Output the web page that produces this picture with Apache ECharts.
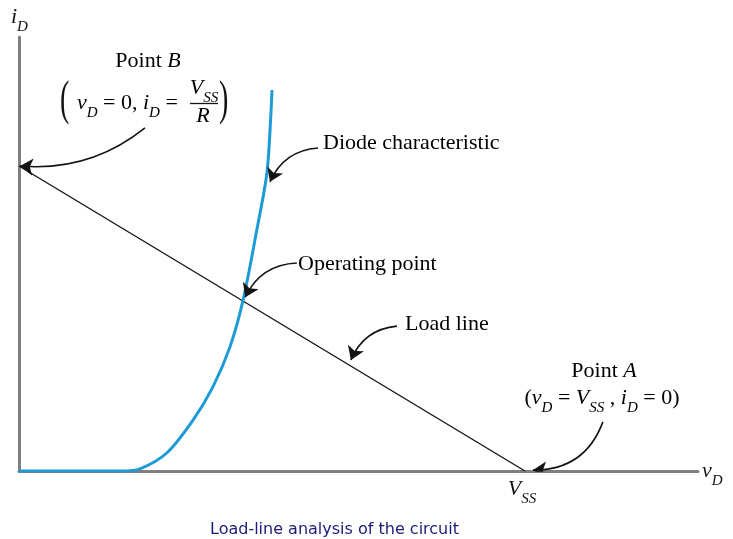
<!DOCTYPE html>
<html>
<head>
<meta charset="utf-8">
<script src="https://cdn.jsdelivr.net/npm/echarts@6/dist/echarts.min.js"></script>
<style>
html, body { margin: 0; padding: 0; background: #fff; }
#main { width: 733px; height: 539px; }
</style>
</head>
<body>
<div id="main"></div>
<script>
// 二极管特性曲线 (vD, iD), 单位: VSS = 10, VSS/R = 10
var diodeV = [0, 2.04, 2.39, 2.92, 3.44, 3.83, 4.17, 4.43, 4.70, 4.90, 4.98, 5.00]
var diodeI = [0, 0, 0.07, 0.59, 1.67, 2.75, 4.07, 5.61, 7.90, 9.77, 11.74, 12.49]
// 负载线: 点B (0, VSS/R) -> 点A (VSS, 0)
var loadV = [0, 10]
var loadI = [10, 0]
var xTicks = [0, 10]
var xTickLabels = ['', '{it|V}{sub|SS}']
// 注释箭头 起点/终点 (数据坐标) 和弯曲度
var arrowFrom = [[2.49, 11.25], [5.91, 10.59], [5.49, 6.82], [7.47, 4.75], [11.54, 1.61]]
var arrowTo = [[0.02, 10.0], [4.96, 9.48], [4.47, 5.70], [6.56, 3.64], [10.16, 0.03]]
var arrowBend = [0.2, -0.3, -0.3, -0.3, 0.35]

var serif = 'Liberation Serif'
var ink = '#141414'

function rich (size) {
    var lh = Math.round(size * 1.64)
    var ss = Math.round(size * 0.68)
    return {
        n: { fontFamily: serif, fontSize: size, color: ink, lineHeight: lh, verticalAlign: 'middle' },
        it: { fontFamily: serif, fontStyle: 'italic', fontSize: size, color: ink, lineHeight: lh, verticalAlign: 'middle' },
        sub: { fontFamily: serif, fontStyle: 'italic', fontSize: ss, color: ink, lineHeight: ss, verticalAlign: 'bottom' }
    }
}

function zip (a, b) {
    var out = []
    for (var i = 0; i < a.length; i++) out.push([a[i], b[i]])
    return out
}

var arrowData = []
for (var k = 0; k < arrowFrom.length; k++) {
    arrowData.push({
        coords: [arrowFrom[k], arrowTo[k]],
        lineStyle: { curveness: arrowBend[k] }
    })
}

function label (x, y, text, align, size) {
    return {
        type: 'text', x: x, y: y, z: 10,
        style: { text: text, align: align || 'left', verticalAlign: 'middle', rich: rich(size || 22) }
    }
}

var myChart = echarts.init(document.getElementById('main'))
var option = {
    backgroundColor: '#fff',
    animation: false,
    title: {
        text: 'Load-line analysis of the circuit',
        left: 205, top: 517,
        textStyle: { fontFamily: 'DejaVu Sans', fontSize: 16, fontWeight: 'normal', color: '#1b1b78' }
    },
    grid: { left: 19, right: 35, top: 37, bottom: 68 },
    xAxis: {
        type: 'value', min: 0, max: 13.42, interval: 10,
        name: '{it|v}{sub|D}', nameLocation: 'end', nameGap: 4,
        nameTextStyle: { rich: rich(22), padding: [0, 0, 0, 0] },
        axisLine: { lineStyle: { color: '#808080', width: 3 } },
        axisTick: { show: false },
        splitLine: { show: false },
        axisLabel: {
            margin: 0,
            padding: [0, 6, 0, 0],
            formatter: function (v) { return xTickLabels[xTicks.indexOf(v)] || '' },
            rich: rich(22)
        }
    },
    yAxis: {
        type: 'value', min: 0, max: 14.23,
        name: '{it|i}{sub|D}', nameLocation: 'end', nameGap: 2,
        nameTextStyle: { rich: rich(22), align: 'left', padding: [0, 0, 0, -8] },
        axisLine: { lineStyle: { color: '#808080', width: 3 } },
        axisTick: { show: false },
        splitLine: { show: false },
        axisLabel: { show: false }
    },
    series: [{
        name: 'Load line',
        type: 'line',
        data: zip(loadV, loadI),
        symbol: 'none',
        lineStyle: { color: ink, width: 1.4 },
        z: 3
    }, {
        name: 'Diode characteristic',
        type: 'line',
        data: zip(diodeV, diodeI),
        smooth: 0.3,
        symbol: 'none',
        lineStyle: { color: '#1e9bd7', width: 3 },
        z: 4
    }, {
        name: 'arrows',
        type: 'lines',
        coordinateSystem: 'cartesian2d',
        symbol: ['none', 'arrow'],
        symbolSize: [9, 13],
        lineStyle: { color: ink, width: 1.6, opacity: 1 },
        data: arrowData,
        z: 5
    }],
    graphic: [
        label(148, 61, '{n|Point }{it|B}', 'center'),
        { type: 'text', x: 60, y: 78, scaleY: 1.7, z: 10,
            style: { text: '(', fontFamily: serif, fontSize: 28, fill: ink } },
        label(77, 103, '{it|v}{sub|D}{n| = 0, }{it|i}{sub|D}{n| =}', 'left'),
        label(204, 88, '{it|V}{sub|SS}', 'center'),
        { type: 'line', z: 10, shape: { x1: 190, y1: 103.5, x2: 218, y2: 103.5 }, style: { stroke: ink, lineWidth: 1.3 } },
        label(203, 116, '{it|R}', 'center'),
        { type: 'text', x: 219, y: 78, scaleY: 1.7, z: 10,
            style: { text: ')', fontFamily: serif, fontSize: 28, fill: ink } },
        label(323, 143, '{n|Diode characteristic}', 'left'),
        label(298, 264, '{n|Operating point}', 'left'),
        label(405, 324, '{n|Load line}', 'left'),
        label(604, 371, '{n|Point }{it|A}', 'center'),
        label(602, 398, '{n|(}{it|v}{sub|D}{n| = }{it|V}{sub|SS}{n| , }{it|i}{sub|D}{n| = 0)}', 'center')
    ]
}
myChart.setOption(option)
window.onresize = myChart.resize
</script>
</body>
</html>
